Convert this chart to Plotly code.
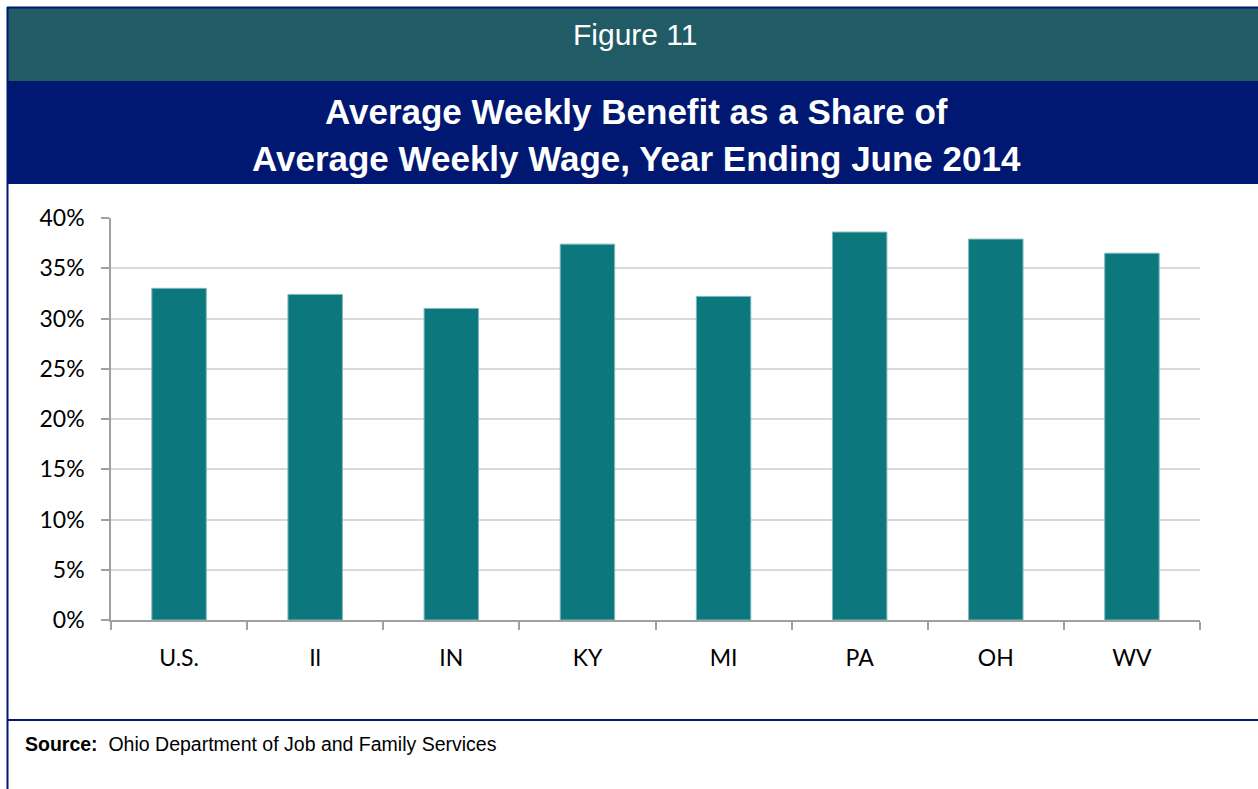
import plotly.graph_objects as go

categories = ["U.S.", "Il", "IN", "KY", "MI", "PA", "OH", "WV"]
values = [0.330, 0.324, 0.310, 0.374, 0.322, 0.386, 0.379, 0.365]
y_ticks = [0, 0.05, 0.10, 0.15, 0.20, 0.25, 0.30, 0.35, 0.40]

W, H = 1258, 789
MT, MB = 14, 13
HP = H - MT - MB
def px(x): return x / W
def py(y): return 1 - (y - MT) / HP

tickfont = dict(family="Lato, Carlito, sans-serif", size=23, color="black")

fig = go.Figure(go.Bar(
    x=categories, y=values, width=0.4,
    marker=dict(color="#0C777D", line=dict(color="#7FB8BC", width=1)),
))

fig.update_layout(
    width=W, height=H, margin=dict(l=0, r=0, t=MT, b=MB, autoexpand=False),
    paper_bgcolor="white", plot_bgcolor="white", showlegend=False,
    xaxis=dict(domain=[px(111), px(1200)], showline=True, linecolor="#A0A0A0", linewidth=2,
               ticks="outside", tickson="boundaries", ticklen=8, tickcolor="#A0A0A0", tickwidth=2,
               tickfont=tickfont, ticklabelstandoff=16, showgrid=False, automargin=False),
    yaxis=dict(domain=[py(620), py(218)], range=[0, 0.40], tickvals=y_ticks, tickformat=".0%",
               showline=True, linecolor="#A0A0A0", linewidth=1.5,
               ticks="outside", ticklen=8, tickcolor="#A0A0A0", tickwidth=1.5,
               gridcolor="#D9D9D9", gridwidth=1.5,
               tickfont=tickfont, ticklabelstandoff=12, zeroline=False, automargin=False),
    shapes=[
        dict(type="rect", xref="paper", yref="paper", x0=px(8), x1=1, y0=py(81), y1=py(8),
             fillcolor="#215B66", line=dict(width=0), layer="below"),
        dict(type="rect", xref="paper", yref="paper", x0=px(8), x1=1, y0=py(184), y1=py(81),
             fillcolor="#001871", line=dict(width=0), layer="below"),
        dict(type="line", xref="paper", yref="paper", x0=px(7), x1=1, y0=py(7.5), y1=py(7.5),
             line=dict(color="#001871", width=2)),
        dict(type="line", xref="paper", yref="paper", x0=px(7.5), x1=px(7.5), y0=py(789), y1=py(7),
             line=dict(color="#001871", width=2)),
        dict(type="line", xref="paper", yref="paper", x0=px(7), x1=1, y0=py(720), y1=py(720),
             line=dict(color="#001871", width=2)),
    ],
    annotations=[
        dict(text="Figure 11", xref="paper", yref="paper", x=px(635), y=py(34),
             showarrow=False, xanchor="center", yanchor="middle",
             font=dict(family="Liberation Sans, Arial", size=30, color="white")),
        dict(text="<b>Average Weekly Benefit as a Share of</b>",
             xref="paper", yref="paper", x=px(636), y=py(111), showarrow=False,
             xanchor="center", yanchor="middle",
             font=dict(family="Liberation Sans, Arial", size=35, color="white")),
        dict(text="<b>Average Weekly Wage, Year Ending June 2014</b>",
             xref="paper", yref="paper", x=px(636), y=py(158), showarrow=False,
             xanchor="center", yanchor="middle",
             font=dict(family="Liberation Sans, Arial", size=35, color="white")),
        dict(text="<b>Source:</b>  Ohio Department of Job and Family Services",
             xref="paper", yref="paper", x=px(23), y=py(744), showarrow=False,
             xanchor="left", yanchor="middle",
             font=dict(family="Liberation Sans, Arial", size=19.5, color="black")),
    ],
)

fig.write_html("out.html", config={"displayModeBar": False},
               post_script="document.body.style.margin='0';document.body.style.overflow='hidden';")
